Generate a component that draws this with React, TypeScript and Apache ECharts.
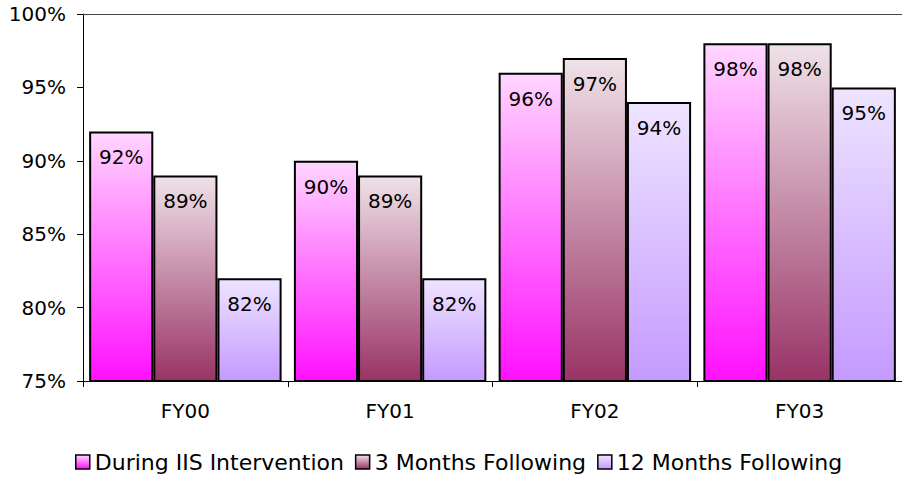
import React, { useEffect, useRef } from "react";
import * as echarts from "echarts";

const categories = ["FY00", "FY01", "FY02", "FY03"];
const seriesNames = ["During IIS Intervention", "3 Months Following", "12 Months Following"];
const during = [92, 90, 96, 98];
const threeMonths = [89, 89, 97, 98];
const twelveMonths = [82, 82, 94, 95];
const yTicks = [75, 80, 85, 90, 95, 100];

const FONT = "DejaVu Sans";

function grad(top: string, bottom: string) {
  return new echarts.graphic.LinearGradient(0, 0, 0, 1, [
    { offset: 0, color: top },
    { offset: 1, color: bottom },
  ]);
}

export default function App() {
  const ref = useRef<HTMLDivElement>(null);
  useEffect(() => {
    document.body.style.margin = "0";
    document.body.style.overflow = "hidden";
    if (!ref.current) return;
    const chart = echarts.init(ref.current, null, { renderer: "svg" });
    const colors = [
      ["#ffd6ff", "#ff10ff"],
      ["#efe2e8", "#993366"],
      ["#eee4ff", "#c49aff"],
    ];
    const data = [during, threeMonths, twelveMonths];
    chart.setOption({
      animation: false,
      textStyle: { fontFamily: FONT },
      grid: { left: 83, top: 14, width: 828, height: 367, containLabel: false },
      legend: {
        top: 446,
        left: 70,
        itemWidth: 14,
        itemHeight: 14,
        itemGap: 11,
        textStyle: { fontFamily: FONT, fontSize: 22, color: "#000" },
        data: seriesNames.map((n, i) => ({
          name: n,
          icon: "rect",
          itemStyle: { color: grad(colors[i][0], colors[i][1]), borderColor: "#000", borderWidth: 1.5 },
        })),
      },
      xAxis: [
        {
          type: "category",
          data: categories,
          axisLine: { lineStyle: { color: "#000", width: 1 } },
          axisTick: { show: true, length: 6, lineStyle: { color: "#000" } },
          axisLabel: { color: "#000", fontSize: 20, fontFamily: FONT, margin: 20 },
        },
        {
          type: "category",
          position: "top",
          data: categories,
          axisLine: { show: true, lineStyle: { color: "#444", width: 1 } },
          axisTick: { show: false },
          axisLabel: { show: false },
        },
      ],
      yAxis: {
        type: "value",
        min: 75,
        max: 100,
        interval: 5,
        axisLine: { show: true, lineStyle: { color: "#000", width: 1 } },
        axisTick: { show: true, length: 6, lineStyle: { color: "#000" } },
        splitLine: { show: false },
        axisLabel: {
          color: "#000",
          fontSize: 20,
          fontFamily: FONT,
          margin: 17,
          formatter: (v: number) => (yTicks.includes(v) ? v + "%" : ""),
        },
      },
      series: data.map((d, i) => ({
        name: seriesNames[i],
        type: "bar",
        data: d,
        barGap: "0%",
        barCategoryGap: "6%",
        itemStyle: { color: grad(colors[i][0], colors[i][1]), borderColor: "#000", borderWidth: 2 },
        label: {
          show: true,
          position: "insideTop",
          distance: 16,
          color: "#000",
          fontSize: 20,
          fontFamily: FONT,
          formatter: (p: any) => p.value + "%",
        },
      })),
    });
    return () => chart.dispose();
  }, []);
  return <div ref={ref} style={{ width: 902, height: 478 }} />;
}
